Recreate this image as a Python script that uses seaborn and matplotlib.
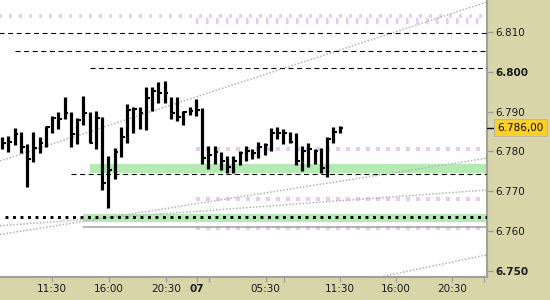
import matplotlib
matplotlib.use("Agg")
import matplotlib.pyplot as plt
import matplotlib.transforms as mtransforms
import seaborn as sns
import numpy as np

# ---------------- data (30-minute HLC bars) ----------------
highs = [6.7836, 6.7839, 6.7859, 6.7849, 6.7819, 6.7849, 6.7836, 6.7864, 6.7889, 6.7899,
         6.7937, 6.7899, 6.7884, 6.7940, 6.7899, 6.7902, 6.7887, 6.7788, 6.7809, 6.7861,
         6.7919, 6.7912, 6.7912, 6.7962, 6.7962, 6.7975, 6.7977, 6.7937, 6.7937, 6.7902,
         6.7912, 6.7932, 6.7909, 6.7814, 6.7814, 6.7798, 6.7788, 6.7788, 6.7801, 6.7814,
         6.7806, 6.7824, 6.7821, 6.7859, 6.7861, 6.7856, 6.7849, 6.7846, 6.7814, 6.7821,
         6.7806, 6.7809, 6.7836, 6.7861, 6.7864]
lows = [6.7806, 6.7798, 6.7816, 6.7796, 6.7710, 6.7773, 6.7796, 6.7811, 6.7846, 6.7856,
        6.7882, 6.7811, 6.7819, 6.7866, 6.7821, 6.7806, 6.7703, 6.7657, 6.7730, 6.7786,
        6.7821, 6.7846, 6.7856, 6.7854, 6.7902, 6.7922, 6.7922, 6.7882, 6.7877, 6.7866,
        6.7892, 6.7889, 6.7768, 6.7756, 6.7768, 6.7753, 6.7746, 6.7746, 6.7766, 6.7776,
        6.7781, 6.7783, 6.7791, 6.7801, 6.7831, 6.7819, 6.7821, 6.7766, 6.7751, 6.7761,
        6.7768, 6.7746, 6.7736, 6.7821, 6.7846]
closes = [6.7821, 6.7824, 6.7844, 6.7811, 6.7781, 6.7809, 6.7821, 6.7861, 6.7884, 6.7882,
          6.7897, 6.7844, 6.7879, 6.7897, 6.7821, 6.7884, 6.7720, 6.7753, 6.7798, 6.7836,
          6.7904, 6.7907, 6.7897, 6.7935, 6.7952, 6.7947, 6.7947, 6.7897, 6.7887, 6.7899,
          6.7902, 6.7904, 6.7783, 6.7791, 6.7798, 6.7776, 6.7761, 6.7776, 6.7796, 6.7801,
          6.7796, 6.7811, 6.7816, 6.7846, 6.7846, 6.7846, 6.7824, 6.7776, 6.7801, 6.7806,
          6.7801, 6.7758, 6.7831, 6.7849, 6.7860]

last_price = 6.786
last_label = "6.786,00"

y_ticks = [6.750, 6.760, 6.770, 6.780, 6.790, 6.800, 6.810]
y_bold = [6.750, 6.800]
x_tick_pos = [8, 17.1, 26.2, 31.2, 42.2, 54.1, 63.0, 72.0]
x_tick_labels = ["11:30", "16:00", "20:30", "07", "05:30", "11:30", "16:00", "20:30"]
x_minor_pos = [33.1, 45.1, 77.1]

# horizontal levels: (value, start index)
black_dashed = [(6.8098, -1.0), (6.8052, 2.1), (6.8009, 14.1), (6.7744, 11.0)]
black_dotted = [(6.7635, 0.5)]
grey_solid = [(6.7610, 13.0)]
green_bands = [(6.7746, 6.7768, 14.1), (6.7622, 6.7642, 13.0)]
purple_thin = [(6.8140, -1.0, 76.8)]
purple_tall = [(6.8128, 31.0, 76.8)]
purple_sq = [(6.7807, 31.0, 76.8), (6.7681, 31.0, 76.8), (6.7608, 31.0, 76.8)]
# trend lines: (x0, y0, x1, y1) in bar index / price
trend_lines = [(-0.32, 6.7776, 77.6, 6.8176),
               (-0.32, 6.7591, 77.6, 6.7783),
               (-0.32, 6.7613, 77.6, 6.7703),
               (60.5, 6.7484, 77.6, 6.7540)]

# ---------------- styling ----------------
sns.set_theme(style="white")
plt.rcParams["font.family"] = ["DejaVu Sans"]
plt.rcParams["lines.scale_dashes"] = False

TAN = "#D8D6A9"
GREY = "#A0A0A0"
PURPLE = "#C9A6EA"
XL = (-0.32, 77.6)
YL = (6.7484, 6.8181)

fig = plt.figure(figsize=(5.5, 3), dpi=100, facecolor=TAN)
ax = fig.add_axes([0, 23 / 300, 487 / 550, 277 / 300])
ax.set_facecolor("white")
ax.set_xlim(*XL)
ax.set_ylim(*YL)

# green bands
for lo, hi, x0 in green_bands:
    ax.fill_between([x0, XL[1] + 1], lo, hi, color="#B3EBB3", lw=0, zorder=1)

# purple square-dotted levels
for v, x0, x1 in purple_thin:
    ax.plot([x0, x1], [v, v], color=PURPLE, alpha=0.55, lw=2.6,
            dash_capstyle="butt", linestyle=(0, (2.2, 5.0)), zorder=2)
for v, x0, x1 in purple_tall:
    ax.plot([x0, x1], [v, v], color=PURPLE, alpha=0.55, lw=4.6, dash_capstyle="butt",
            linestyle=(0, (1.8, 5.4)), zorder=2)
for v, x0, x1 in purple_sq:
    ax.plot([x0, x1], [v, v], color=PURPLE, alpha=0.55, lw=2.9, dash_capstyle="butt",
            linestyle=(0, (2.9, 4.3)), zorder=2)

# grey dotted trend lines (seaborn)
for x0, y0, x1, y1 in trend_lines:
    sns.lineplot(x=[x0, x1], y=[y0, y1], ax=ax, color="#B4B4B4", lw=1.1,
                 linestyle=(0, (1.1, 1.3)), dash_capstyle="butt", zorder=2)

# black dashed levels
for v, x0 in black_dashed:
    ax.plot([x0, XL[1] + 1], [v, v], color="black", lw=0.8,
            linestyle=(0, (3.6, 2.6)), dash_capstyle="butt", zorder=3)
for v, x0 in black_dotted:
    ax.plot([x0, XL[1] + 1], [v, v], color="black", lw=2.1,
            linestyle=(0, (2.1, 3.3)), dash_capstyle="butt", zorder=3)
for v, x0 in grey_solid:
    ax.plot([x0, XL[1] + 1], [v, v], color=GREY, lw=1.1, zorder=3)

# HLC bars
idx = np.arange(len(closes))
ax.vlines(idx, lows, highs, color="black", lw=2.3, zorder=5)
ax.hlines(closes, idx, idx + 0.6, color="black", lw=1.5, zorder=5)

# axes / spines
for s in ["top", "left"]:
    ax.spines[s].set_visible(False)
for s in ["bottom", "right"]:
    ax.spines[s].set_color(GREY)
    ax.spines[s].set_linewidth(1.5)

ax.yaxis.tick_right()
ax.set_yticks(y_ticks)
ax.set_yticklabels([f"{v:.3f}" for v in y_ticks])
for lab, v in zip(ax.get_yticklabels(), y_ticks):
    if any(abs(v - b) < 1e-9 for b in y_bold):
        lab.set_fontweight("bold")
ax.tick_params(axis="y", which="both", right=True, left=False, length=4.3, width=1.0,
               color=GREY, pad=1.8, labelsize=7.5, labelcolor="#1a1a1a")

ax.set_xticks(x_tick_pos)
ax.set_xticklabels(x_tick_labels)
ax.set_xticks(x_minor_pos, minor=True)
for lab, t in zip(ax.get_xticklabels(), x_tick_labels):
    if t == "07":
        lab.set_fontweight("bold")
ax.tick_params(axis="x", which="both", bottom=True, length=3.5, width=1.0, color=GREY,
               pad=1.5, labelsize=7.5, labelcolor="#1a1a1a")
ax.grid(False)

# last price marker
trans = mtransforms.blended_transform_factory(ax.transAxes, ax.transData)
ax.plot([1.0, 1.013], [last_price, last_price], transform=trans, color="black",
        lw=1.0, clip_on=False, zorder=6)
ax.text(1.0205, last_price, last_label, transform=trans, ha="left", va="center",
        fontsize=7.5, color="black", clip_on=False, zorder=7,
        bbox=dict(boxstyle="square,pad=0.33", facecolor="#FFD21A", edgecolor="#B8B8B8", lw=0.8))

fig.savefig("out.png", dpi=100, facecolor=TAN)
